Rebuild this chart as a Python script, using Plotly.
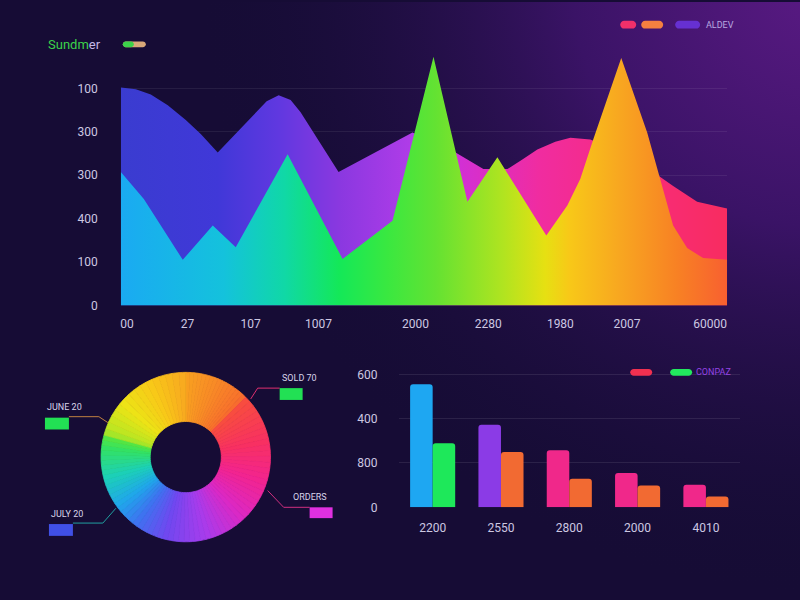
import base64
import plotly.graph_objects as go

# ---------------- data ----------------
# top area chart (x on a 0-100 positional scale)
back_x = [0, 2.47, 4.94, 7.74, 10.71, 13.18, 15.98, 21.42, 24.05, 26.03, 28.01, 29.65, 35.91, 48.11,
          54.86, 59.80, 63.76, 66.23, 68.70, 71.66, 74.14, 77.43, 80.72, 84.84, 87.81, 91.10, 95.06, 100]
back_y = [5.02, 4.98, 4.86, 4.61, 4.27, 3.95, 3.52, 4.32, 4.70, 4.84, 4.73, 4.45, 3.07, 3.98,
          3.55, 3.14, 3.14, 3.36, 3.59, 3.77, 3.86, 3.82, 3.64, 3.32, 3.07, 2.75, 2.39, 2.23]

front_x = [0, 3.79, 7.41, 10.21, 15.16, 18.95, 27.51, 36.57, 44.81, 51.57, 57.17, 62.11, 70.18,
           73.64, 75.78, 77.92, 82.54, 86.82, 88.96, 91.10, 93.41, 96.05, 100]
front_y = [3.07, 2.45, 1.66, 1.05, 1.84, 1.34, 3.48, 1.07, 1.95, 5.73, 2.39, 3.41, 1.61,
           2.30, 2.91, 3.82, 5.70, 3.98, 2.91, 1.84, 1.32, 1.09, 1.05]

top_xtick_pos = [1.0, 11.0, 21.4, 32.6, 48.6, 60.6, 72.5, 83.5, 97.2]
top_xtick_text = ["00", "27", "107", "1007", "2000", "2280", "1980", "2007", "60000"]
top_ytick_pos = [0, 1, 2, 3, 4, 5]
top_ytick_text = ["0", "100", "400", "300", "300", "100"]

# donut segments (clockwise from 12 o'clock), shares in percent
donut_values = [12.5, 18.0, 16.7, 16.7, 15.3, 20.8]

# grouped bars
bar_categories = ["2200", "2550", "2800", "2000", "4010"]
bar_series_a = [555, 373, 258, 155, 102]
bar_series_b = [289, 249, 129, 98, 49]
bar_colors_a = ["#1ea7f2", "#8b3be6", "#f0288a", "#f0288a", "#f0288a"]
bar_colors_b = ["#1ee85a", "#f26a32", "#f26a32", "#f26a32", "#f26a32"]
bar_ytick_pos = [0, 200, 400, 600]
bar_ytick_text = ["0", "800", "400", "600"]

# conic colour stops for the donut (fraction of the turn, colour)
donut_stops = [(0.0, "#f8a020"), (0.06, "#f88a26"), (0.12, "#f8702c"), (0.13, "#f84c40"),
               (0.22, "#f83062"), (0.30, "#f22490"), (0.38, "#dc28c4"), (0.46, "#a83cec"),
               (0.54, "#7048f0"), (0.60, "#4070f0"), (0.65, "#20a6ec"), (0.71, "#1cd0b8"),
               (0.77, "#34e260"), (0.79, "#58e640"), (0.80, "#b4e624"), (0.86, "#ece416"),
               (0.93, "#f8c818"), (1.0, "#f8a820")]

# ---------------- helpers ----------------
W, H = 800, 600


def px(x):
    return x / W


def py(y):
    return 1 - y / H


def hex2rgb(h):
    return tuple(int(h[i:i + 2], 16) for i in (1, 3, 5))


def conic_color(f):
    for (f0, c0), (f1, c1) in zip(donut_stops[:-1], donut_stops[1:]):
        if f0 <= f <= f1:
            t = 0 if f1 == f0 else (f - f0) / (f1 - f0)
            a, b = hex2rgb(c0), hex2rgb(c1)
            return "rgb(%d,%d,%d)" % tuple(round(a[i] + (b[i] - a[i]) * t) for i in range(3))
    return donut_stops[-1][1]


def pill_path(x0, x1, yc, h):
    r = h / 2
    k = 0.552 * r
    t, b = yc - r, yc + r
    pts = [
        f"M {px(x0 + r)},{py(t)}",
        f"L {px(x1 - r)},{py(t)}",
        f"C {px(x1 - r + k)},{py(t)} {px(x1)},{py(yc - k)} {px(x1)},{py(yc)}",
        f"C {px(x1)},{py(yc + k)} {px(x1 - r + k)},{py(b)} {px(x1 - r)},{py(b)}",
        f"L {px(x0 + r)},{py(b)}",
        f"C {px(x0 + r - k)},{py(b)} {px(x0)},{py(yc + k)} {px(x0)},{py(yc)}",
        f"C {px(x0)},{py(yc - k)} {px(x0 + r - k)},{py(t)} {px(x0 + r)},{py(t)}",
        "Z",
    ]
    return " ".join(pts)


shapes = []
annotations = []


def add_pill(x0, x1, yc, h, color):
    shapes.append(dict(type="path", xref="paper", yref="paper", path=pill_path(x0, x1, yc, h),
                       fillcolor=color, line=dict(width=0), layer="above"))


def add_text(x, y, text, color, size, anchor="left"):
    annotations.append(dict(x=px(x), y=py(y), xref="paper", yref="paper", text=text, showarrow=False,
                            xanchor=anchor, yanchor="middle",
                            font=dict(color=color, size=size, family="Roboto")))


def add_rect(x0, x1, y0, y1, color):
    shapes.append(dict(type="rect", xref="paper", yref="paper", x0=px(x0), x1=px(x1), y0=py(y1), y1=py(y0),
                       fillcolor=color, line=dict(width=0), layer="above"))


def add_polyline(points, color):
    path = "M " + " L ".join(f"{px(a)},{py(b)}" for a, b in points)
    shapes.append(dict(type="path", xref="paper", yref="paper", path=path,
                       line=dict(color=color, width=1), layer="above"))


# split each donut segment into thin sub-slices so the colour runs as a smooth sweep
SUB = 16
total = sum(donut_values)
sub_vals, sub_cols = [], []
acc = 0.0
for v in donut_values:
    for j in range(SUB):
        mid = (acc + v * (j + 0.5) / SUB) / total
        sub_vals.append(v / SUB)
        sub_cols.append(conic_color(mid))
    acc += v

# ---------------- figure ----------------
fig = go.Figure()

fig.add_trace(go.Scatter(
    x=back_x, y=back_y, mode="lines", line=dict(width=0),
    fill="tozeroy",
    fillgradient=dict(type="horizontal", colorscale=[
        [0.0, "#3a3cd0"], [0.16, "#4038d8"], [0.26, "#6038e0"], [0.36, "#8a38e0"],
        [0.48, "#b03ce8"], [0.55, "#d030d8"], [0.69, "#f02ca0"], [0.87, "#f82c78"], [1.0, "#f82c60"]]),
    hoverinfo="skip", showlegend=False, xaxis="x", yaxis="y"))

fig.add_trace(go.Scatter(
    x=front_x, y=front_y, mode="lines", line=dict(width=0),
    fill="tozeroy",
    fillgradient=dict(type="horizontal", colorscale=[
        [0.0, "#1aaaf2"], [0.17, "#14c2dc"], [0.27, "#10d8a6"], [0.36, "#14e858"],
        [0.44, "#3ae840"], [0.52, "#64e232"], [0.63, "#b0e420"], [0.70, "#e6e012"],
        [0.74, "#f8c818"], [0.82, "#f8a820"], [0.92, "#f88024"], [1.0, "#f86030"]]),
    hoverinfo="skip", showlegend=False, xaxis="x", yaxis="y"))

fig.add_trace(go.Pie(
    values=sub_vals, marker=dict(colors=sub_cols, line=dict(width=0.8, color=sub_cols)),
    hole=0.42, sort=False, direction="clockwise", rotation=0,
    textinfo="none", hoverinfo="skip", showlegend=False,
    domain=dict(x=[px(99), px(271)], y=[py(548), py(376)])))

fig.add_trace(go.Bar(
    x=bar_categories, y=bar_series_a, marker=dict(color=bar_colors_a, cornerradius=3, line=dict(width=0)),
    showlegend=False, xaxis="x2", yaxis="y2", hoverinfo="skip"))
fig.add_trace(go.Bar(
    x=bar_categories, y=bar_series_b, marker=dict(color=bar_colors_b, cornerradius=3, line=dict(width=0)),
    showlegend=False, xaxis="x2", yaxis="y2", hoverinfo="skip"))

# ---------------- decorations ----------------
add_text(45, 43, "<span style='color:#3cd24a'>Sundm</span><span style='color:#c4b8e6'>er</span>",
         "#3cd24a", 13)
add_pill(122, 145, 43, 6, "#d8a878")
add_pill(122, 133, 43, 6, "#3cd24a")

add_pill(620, 636, 23, 8, "#f0306a")
add_pill(641, 663, 23, 8, "#f58040")
add_pill(675, 700, 23, 8, "#6630d2")
add_text(704, 23, "ALDEV", "#b8a8e0", 9)

add_pill(630, 652, 376, 7, "#f03050")
add_pill(670, 692, 376, 7, "#22e85e")
add_text(694, 376, "CONPAZ", "#9444e4", 9)

# donut callouts
add_polyline([(250, 403), (257, 392), (279, 392)], "#e03070")
add_rect(279, 302, 392, 404, "#22e054")
add_text(279, 382, "SOLD 70", "#d8d4ea", 9)

add_polyline([(107, 427), (98, 421), (68, 421)], "#c08040")
add_rect(44, 68, 422, 434, "#22e054")
add_text(44, 411, "JUNE 20", "#d8d4ea", 9)

add_polyline([(115, 514), (102, 529), (72, 529)], "#20a0a0")
add_rect(48, 72, 530, 542, "#4050e6")
add_text(48, 520, "JULY 20", "#d8d4ea", 9)

add_polyline([(267, 496), (283, 513), (309, 513)], "#d03080")
add_rect(309, 332, 513, 524, "#e030e0")
add_text(290, 503, "ORDERS", "#d8d4ea", 9)

# background gradient
svg = f"""<svg xmlns='http://www.w3.org/2000/svg' width='{W}' height='{H}' viewBox='0 0 {W} {H}' preserveAspectRatio='none'>
<defs>
<radialGradient id='g1' gradientUnits='userSpaceOnUse' cx='820' cy='-20' r='620'>
<stop offset='0' stop-color='#5a1a84'/>
<stop offset='0.4' stop-color='#3a1366'/>
<stop offset='1' stop-color='#170d38' stop-opacity='0'/>
</radialGradient>
</defs>
<rect x='-5' y='-5' width='{W + 10}' height='{H + 10}' fill='#160c35'/>
<rect x='-5' y='-5' width='{W + 10}' height='{H + 10}' fill='url(#g1)'/>
</svg>"""
bg_src = "data:image/svg+xml;base64," + base64.b64encode(svg.encode()).decode()

tick_font = dict(color="#cdc8e2", size=12, family="Roboto")
grid_col = "rgba(255,255,255,0.07)"

fig.update_layout(
    width=W, height=H, margin=dict(l=0, r=0, t=0, b=0),
    paper_bgcolor="#160c35", plot_bgcolor="rgba(0,0,0,0)",
    images=[dict(source=bg_src, xref="paper", yref="paper", x=0, y=1, sizex=1, sizey=1,
                 sizing="stretch", layer="below", xanchor="left", yanchor="top")],
    shapes=shapes, annotations=annotations,
    barmode="group", bargap=0.34, bargroupgap=0,
    xaxis=dict(domain=[px(120), px(727)], range=[0, 100], tickvals=top_xtick_pos, ticktext=top_xtick_text,
               showgrid=False, zeroline=False, showline=False, tickfont=tick_font, ticks="",
               ticklabelstandoff=10, fixedrange=True),
    yaxis=dict(domain=[py(308), py(48)], range=[0, 5.9], tickvals=top_ytick_pos, ticktext=top_ytick_text,
               showgrid=True, gridcolor=grid_col, zeroline=False, showline=False, tickfont=tick_font,
               ticks="", ticklabelstandoff=22, fixedrange=True),
    xaxis2=dict(domain=[px(398), px(740)], anchor="y2", type="category", showgrid=False, zeroline=False,
                showline=False, tickfont=tick_font, ticks="", ticklabelstandoff=12),
    yaxis2=dict(domain=[py(513), py(373.5)], anchor="x2", range=[0, 620], tickvals=bar_ytick_pos,
                ticktext=bar_ytick_text, showgrid=True, gridcolor="rgba(255,255,255,0.09)", zeroline=False,
                showline=False, tickfont=tick_font, ticks="", ticklabelstandoff=20),
)

fig.write_html("out.html")
